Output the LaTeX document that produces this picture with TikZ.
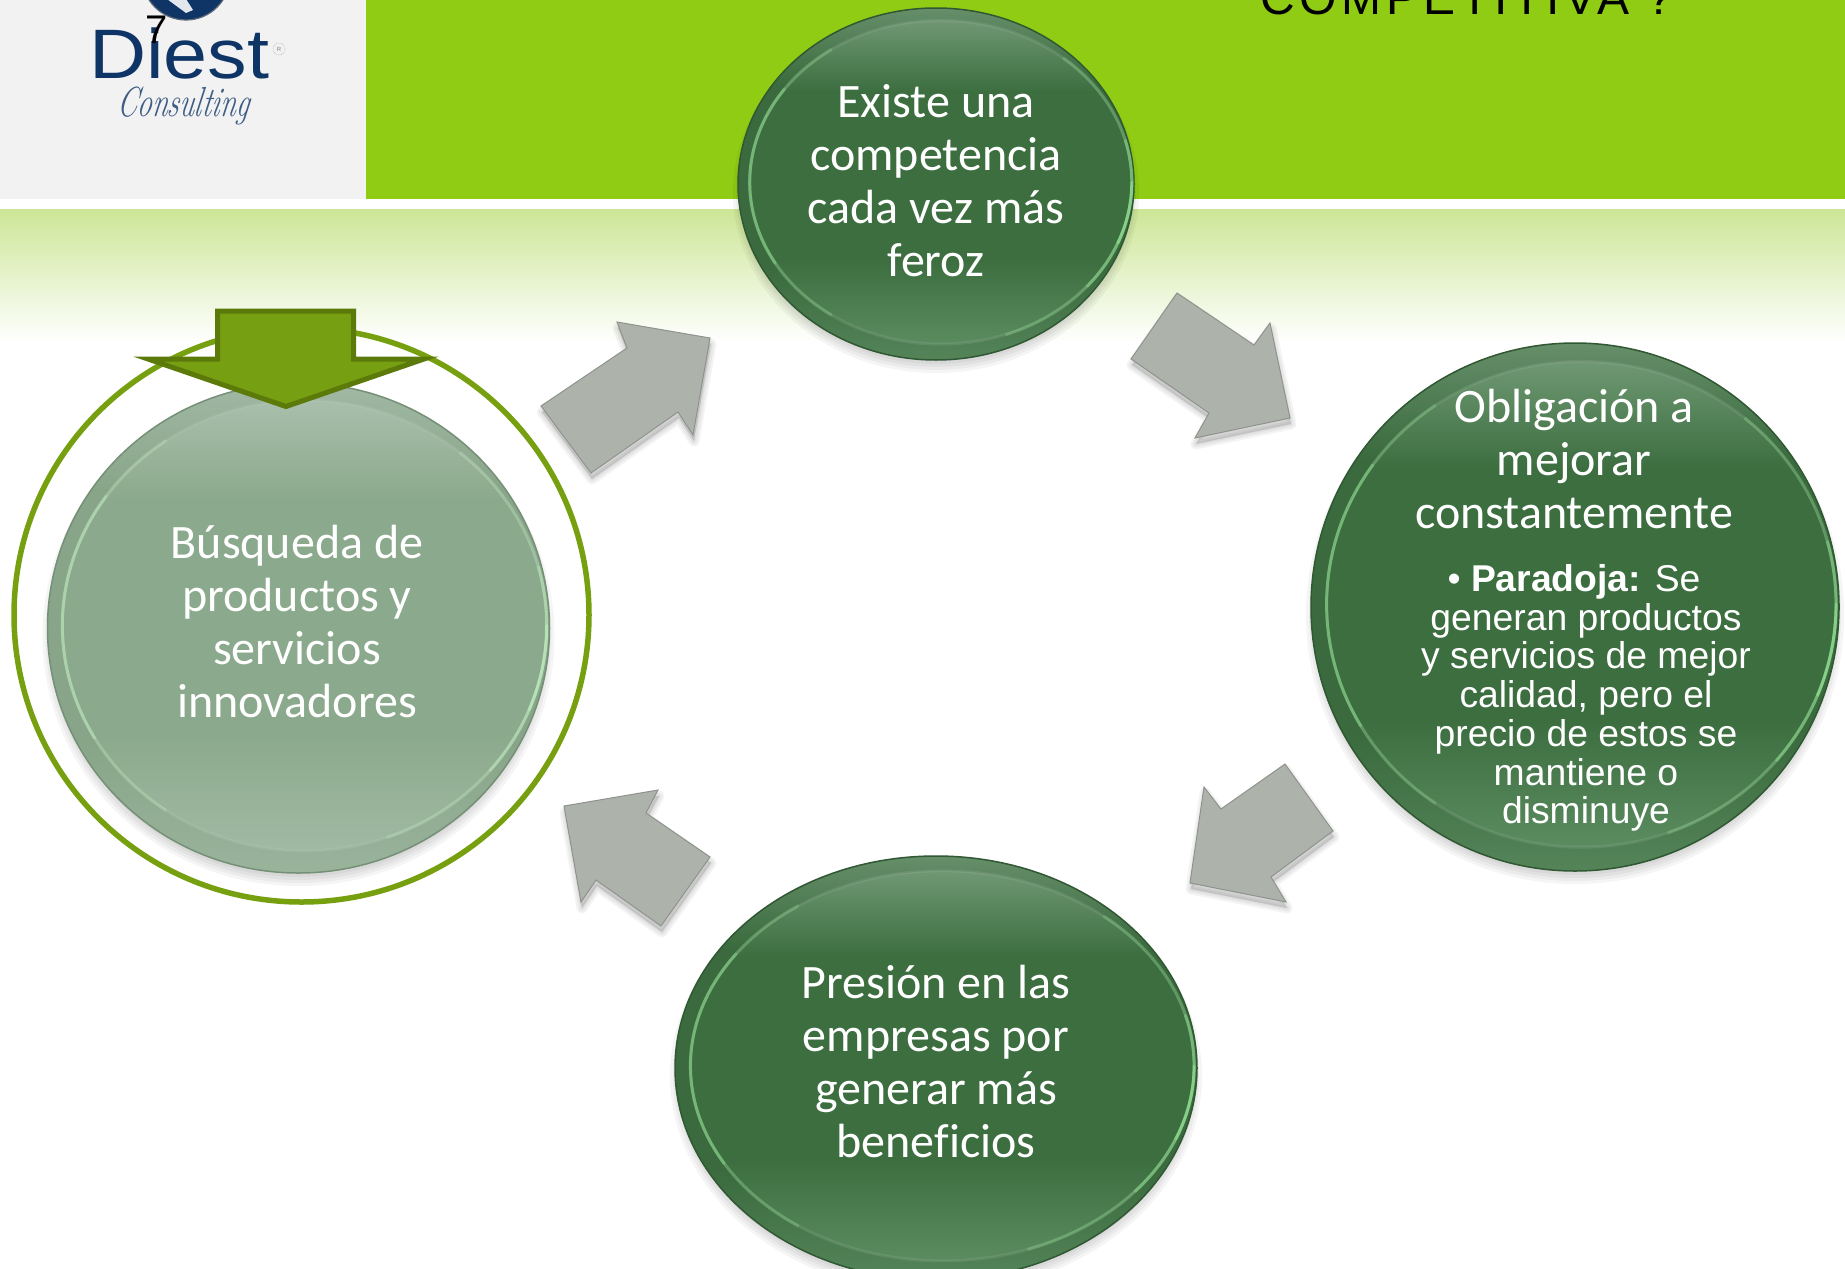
\documentclass[tikz,border=0pt]{standalone}
\usepackage{fontspec}
\usetikzlibrary{shapes.geometric,calc}
\newfontfamily\carl[Ligatures=NoCommon]{Carlito}
\newfontfamily\arial{Liberation Sans}
\newfontfamily\arialsp[LetterSpace=10]{Liberation Sans}
\definecolor{hdr}{HTML}{90CC14}
\definecolor{logobg}{HTML}{F2F2F2}
\definecolor{bandtop}{HTML}{CCE696}
\definecolor{ringc}{HTML}{76A00F}
\definecolor{dfill}{HTML}{769F12}
\definecolor{dedge}{HTML}{5C7A0A}
\definecolor{gfill}{HTML}{ADB2AA}
\definecolor{gedge}{HTML}{8E938D}
\definecolor{navy}{HTML}{0E3566}
\definecolor{dmid}{HTML}{3C6E40}
\definecolor{dtop}{HTML}{6F9873}
\definecolor{dbot}{HTML}{5B8C60}
\definecolor{fmid}{HTML}{8BA98C}
\definecolor{ftop}{HTML}{A9BFAC}
\definecolor{fbot}{HTML}{A0BAA3}
\pgfdeclareverticalshading{darkdisc}{100bp}{color(0bp)=(dbot); color(25bp)=(dbot); color(38bp)=(dmid); color(64bp)=(dmid); color(75bp)=(dtop); color(100bp)=(dtop)}
\pgfdeclareverticalshading{fadedisc}{100bp}{color(0bp)=(fbot); color(25bp)=(fbot); color(38bp)=(fmid); color(64bp)=(fmid); color(75bp)=(ftop); color(100bp)=(ftop)}
\tikzset{
  disctext/.style={text=white,align=center,font=\carl\fontsize{48}{53}\selectfont,inner sep=0pt},
  bodytext/.style={text=white,align=center,font=\arial\fontsize{37.3}{38.7}\selectfont,inner sep=0pt},
  blockfill/.style={fill=gfill,draw=gedge,line width=1pt,line join=miter},
  discbase/.style={ellipse,inner sep=0pt,outer sep=0pt}
}
% name cx cy rx ry shading edge rim bright
\newcommand{\gdisc}[9]{%
  \foreach \k in {1,4,7,10}{\fill[black,opacity=0.04] (#2,#3+8) ellipse [x radius=#4+\k-5,y radius=#5+\k-5];}
  \node[discbase,shade,shading=#6,draw=#7,line width=1.5pt,minimum width=2*#4 pt,minimum height=2*#5 pt] (#1) at (#2,#3) {};
  \fill[#7,opacity=0.14] (#2,#3) ellipse [x radius=#4,y radius=#5];
  \pgfmathsetmacro{\icx}{#2+0.024*#4}
  \pgfmathsetmacro{\icy}{#3-0.01*#5}
  \pgfmathsetmacro{\irx}{#4*0.965}
  \pgfmathsetmacro{\iry}{#5*0.92}
  \node[discbase,shade,shading=#6,draw=#8,draw opacity=0.18,line width=3pt,minimum width=2*\irx pt,minimum height=2*\iry pt] (#1in) at (\icx,\icy) {};
  \draw[#9,line width=3pt,line cap=round,opacity=0.22] plot[domain=-50:70,samples=40] ({\icx+\irx*cos(\x)},{\icy+\iry*sin(\x)});
  \draw[#9,line width=3pt,line cap=round,opacity=0.3] plot[domain=-15:40,samples=30] ({\icx+\irx*cos(\x)},{\icy+\iry*sin(\x)});
  \draw[#9,line width=3pt,line cap=round,opacity=0.35] plot[domain=0:22,samples=20] ({\icx+\irx*cos(\x)},{\icy+\iry*sin(\x)});
  \draw[#9,line width=3pt,line cap=round,opacity=0.22] plot[domain=125:235,samples=40] ({\icx+\irx*cos(\x)},{\icy+\iry*sin(\x)});
  \draw[#9,line width=3pt,line cap=round,opacity=0.3] plot[domain=150:215,samples=30] ({\icx+\irx*cos(\x)},{\icy+\iry*sin(\x)});
}
\newcommand{\gray}[1]{%
  \foreach \w in {3,7,11}{\draw[black,opacity=0.045,line width=\w pt,line join=round,fill=black,fill opacity=0.045,shift={(1,6)}] #1;}
  \path[blockfill] #1;
}
\begin{document}
\begin{tikzpicture}[x=1pt,y=-1pt]
\useasboundingbox (0,0) rectangle (1845,1269);
\fill[white] (0,0) rectangle (1845,1269);
\fill[hdr] (366,0) rectangle (1845,199);
\fill[logobg] (0,0) rectangle (366,199);
\shade[top color=bandtop,bottom color=white] (0,209) rectangle (1845,342);
% logo
\fill[navy] (186,-24) circle (44);
\draw[gray!70!navy,line width=1.2pt] (186,-24) circle (44);
\fill[white!88!navy] (167,-1) -- (186,-1) -- (193,10) -- (186,13) -- cycle;
\node[anchor=base west,text=navy,inner sep=0pt,font=\arial\fontsize{70}{70}\selectfont,xscale=1.13] (brand) at (89,78) {Diest};
\node[anchor=base west,text=navy!80,inner sep=0pt,font=\fontsize{29}{29}\selectfont\itshape,xslant=0.15,yscale=1.45] (consult) at (116,116) {Consulting};
\node[circle,draw=gray!60,densely dotted,line width=0.6pt,inner sep=0pt,minimum size=12pt,text=gray,font=\arial\fontsize{6}{6}\selectfont] (regmark) at (279,49) {R};
\node[anchor=base,text=black,inner sep=0pt,font=\arial\fontsize{40}{40}\selectfont] (pagenum) at (157,43) {7};
% title
\node[anchor=base west,text=black,inner sep=0pt,font=\arialsp\fontsize{48}{48}\selectfont] (title) at (1260,14) {COMPETITIVA\hspace{17pt}?};
% ring
\node[discbase,draw=ringc,line width=5.5pt,minimum width=575pt,minimum height=574pt] (ring) at (301.5,615) {};
% discs
\gdisc{top}{936}{184}{198}{176}{darkdisc}{dmid!80!black}{dmid!45!white}{green!35!white}
\gdisc{right}{1575}{607}{264}{264}{darkdisc}{dmid!80!black}{dmid!45!white}{green!35!white}
\gdisc{bottom}{936}{1068}{261}{212}{darkdisc}{dmid!80!black}{dmid!45!white}{green!35!white}
\gdisc{left}{298.5}{628}{251}{245}{fadedisc}{fmid!85!black}{fmid!55!white}{green!20!white}
% down arrow
\draw[fill=dfill,draw=dedge,line width=5pt,miter limit=12,line join=miter] (217.5,311) -- (353.5,311) -- (353.5,359) -- (424,359) -- (286,406.5) -- (148,359) -- (217.5,359) -- cycle;
% block arrows
\gray{(541,406) -- (591,473) -- (678,412) -- (693,435) -- (710,338) -- (617,322) -- (627,348) -- cycle}
\gray{(1177,293) -- (1131,359) -- (1209,413) -- (1195,438) -- (1290,418) -- (1270,323) -- (1254,345) -- cycle}
\gray{(1285,764) -- (1333,831) -- (1271,877) -- (1286,902) -- (1190,883) -- (1204,787) -- (1221,809) -- cycle}
\gray{(658,790) -- (564,806) -- (581,902) -- (596,880) -- (661,926) -- (710,857) -- (646,813) -- cycle}
% texts
\node[disctext] (ttop) at (936,181) {Existe una\\competencia\\cada vez más\\feroz};
\node[disctext] (tright) at (1574,459) {Obligación a\\mejorar\\constantemente};
\node[bodytext] (tbody) at (1586,698) {\textbullet{} \textbf{Paradoja:} Se\hspace*{24pt}\\generan productos\\y servicios de mejor\\calidad, pero el\\precio de estos se\\mantiene o\\disminuye};
\node[disctext] (tbottom) at (936,1061) {Presión en las\\empresas por\\generar más\\beneficios};
\node[disctext] (tleft) at (297,622) {Búsqueda de\\productos y\\servicios\\innovadores};
\end{tikzpicture}
\end{document}
